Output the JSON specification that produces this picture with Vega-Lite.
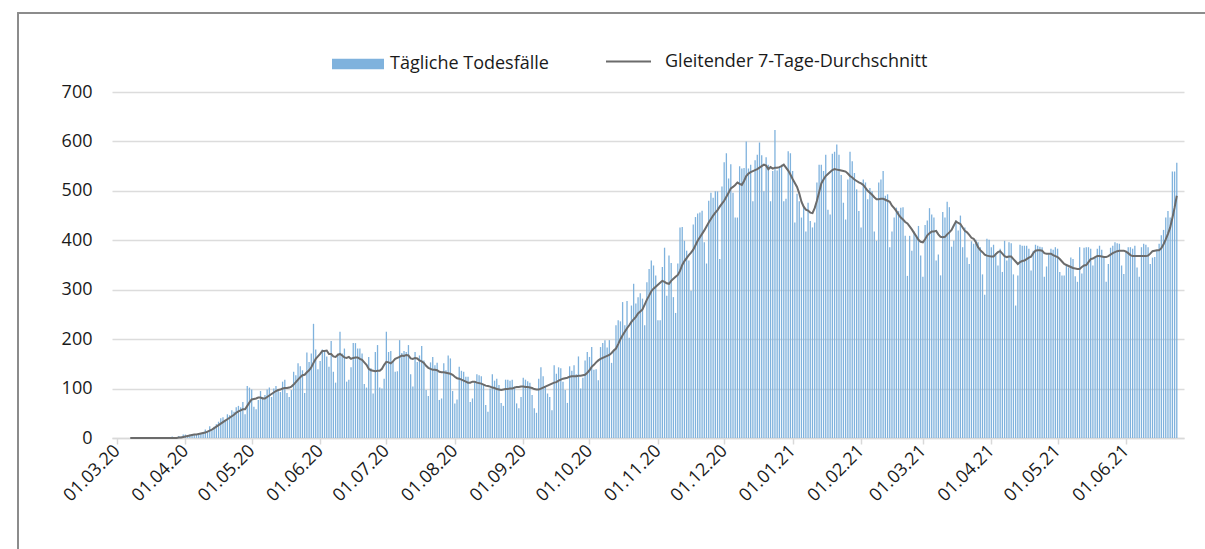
{
"$schema": "https://vega.github.io/schema/vega-lite/v6.json",
"width": 1072,
"height": 346,
"autosize": {"type": "none"},
"padding": {"left": 112, "top": 92, "right": 21, "bottom": 111},
"background": "white",
"config": {"view": {"stroke": null}, "font": "Open Sans"},
"data": {"values": [
{"d":"2020-03-01","v":0},{"d":"2020-03-02","v":0},{"d":"2020-03-03","v":0},{"d":"2020-03-04","v":0},{"d":"2020-03-05","v":0},{"d":"2020-03-06","v":0},
{"d":"2020-03-07","v":0,"a":0},{"d":"2020-03-08","v":0,"a":0},{"d":"2020-03-09","v":0,"a":0},{"d":"2020-03-10","v":0,"a":0},{"d":"2020-03-11","v":0,"a":0},{"d":"2020-03-12","v":0,"a":0},{"d":"2020-03-13","v":0,"a":0},{"d":"2020-03-14","v":0,"a":0},{"d":"2020-03-15","v":0,"a":0},{"d":"2020-03-16","v":0,"a":0},{"d":"2020-03-17","v":0,"a":0},{"d":"2020-03-18","v":0,"a":0},
{"d":"2020-03-19","v":1,"a":0},{"d":"2020-03-20","v":0,"a":0},{"d":"2020-03-21","v":1,"a":0},{"d":"2020-03-22","v":1,"a":0},{"d":"2020-03-23","v":1,"a":0},{"d":"2020-03-24","v":2,"a":0},{"d":"2020-03-25","v":1,"a":0},{"d":"2020-03-26","v":3,"a":0},{"d":"2020-03-27","v":1,"a":0},{"d":"2020-03-28","v":2,"a":0},{"d":"2020-03-29","v":4,"a":1},{"d":"2020-03-30","v":3,"a":1},{"d":"2020-03-31","v":7,"a":2},
{"d":"2020-04-01","v":7,"a":3},{"d":"2020-04-02","v":6,"a":4},{"d":"2020-04-03","v":7,"a":5},{"d":"2020-04-04","v":8,"a":6},{"d":"2020-04-05","v":7,"a":7},{"d":"2020-04-06","v":8,"a":7},{"d":"2020-04-07","v":9,"a":8},{"d":"2020-04-08","v":9,"a":9},{"d":"2020-04-09","v":11,"a":10},{"d":"2020-04-10","v":17,"a":11},
{"d":"2020-04-11","v":13,"a":13},{"d":"2020-04-12","v":24,"a":15},{"d":"2020-04-13","v":15,"a":17},{"d":"2020-04-14","v":23,"a":20},{"d":"2020-04-15","v":28,"a":23},{"d":"2020-04-16","v":33,"a":26},{"d":"2020-04-17","v":40,"a":29},{"d":"2020-04-18","v":42,"a":32},{"d":"2020-04-19","v":35,"a":35},{"d":"2020-04-20","v":48,"a":38},
{"d":"2020-04-21","v":46,"a":41},{"d":"2020-04-22","v":56,"a":44},{"d":"2020-04-23","v":53,"a":47},{"d":"2020-04-24","v":62,"a":51},{"d":"2020-04-25","v":65,"a":54},{"d":"2020-04-26","v":62,"a":56},{"d":"2020-04-27","v":73,"a":58},{"d":"2020-04-28","v":48,"a":58},{"d":"2020-04-29","v":105,"a":65},{"d":"2020-04-30","v":102,"a":72},
{"d":"2020-05-01","v":98,"a":78},{"d":"2020-05-02","v":63,"a":79},{"d":"2020-05-03","v":58,"a":80},{"d":"2020-05-04","v":77,"a":82},{"d":"2020-05-05","v":95,"a":82},{"d":"2020-05-06","v":83,"a":80},{"d":"2020-05-07","v":87,"a":80},{"d":"2020-05-08","v":98,"a":83},{"d":"2020-05-09","v":102,"a":86},{"d":"2020-05-10","v":83,"a":89},
{"d":"2020-05-11","v":100,"a":92},{"d":"2020-05-12","v":105,"a":95},{"d":"2020-05-13","v":98,"a":97},{"d":"2020-05-14","v":93,"a":98},{"d":"2020-05-15","v":114,"a":100},{"d":"2020-05-16","v":118,"a":101},{"d":"2020-05-17","v":91,"a":101},{"d":"2020-05-18","v":83,"a":102},{"d":"2020-05-19","v":97,"a":104},{"d":"2020-05-20","v":134,"a":108},
{"d":"2020-05-21","v":127,"a":113},{"d":"2020-05-22","v":151,"a":118},{"d":"2020-05-23","v":145,"a":123},{"d":"2020-05-24","v":137,"a":127},{"d":"2020-05-25","v":91,"a":128},{"d":"2020-05-26","v":173,"a":133},{"d":"2020-05-27","v":154,"a":137},{"d":"2020-05-28","v":171,"a":143},{"d":"2020-05-29","v":231,"a":152},{"d":"2020-05-30","v":179,"a":160},{"d":"2020-05-31","v":139,"a":165},
{"d":"2020-06-01","v":156,"a":170},{"d":"2020-06-02","v":179,"a":176},{"d":"2020-06-03","v":174,"a":176},{"d":"2020-06-04","v":165,"a":177},{"d":"2020-06-05","v":144,"a":170},{"d":"2020-06-06","v":196,"a":170},{"d":"2020-06-07","v":134,"a":165},{"d":"2020-06-08","v":112,"a":164},{"d":"2020-06-09","v":171,"a":168},{"d":"2020-06-10","v":215,"a":170},
{"d":"2020-06-11","v":171,"a":167},{"d":"2020-06-12","v":181,"a":163},{"d":"2020-06-13","v":114,"a":162},{"d":"2020-06-14","v":118,"a":164},{"d":"2020-06-15","v":143,"a":160},{"d":"2020-06-16","v":192,"a":162},{"d":"2020-06-17","v":192,"a":163},{"d":"2020-06-18","v":181,"a":163},{"d":"2020-06-19","v":181,"a":160},{"d":"2020-06-20","v":171,"a":158},
{"d":"2020-06-21","v":109,"a":153},{"d":"2020-06-22","v":102,"a":148},{"d":"2020-06-23","v":164,"a":140},{"d":"2020-06-24","v":141,"a":137},{"d":"2020-06-25","v":90,"a":136},{"d":"2020-06-26","v":174,"a":135},{"d":"2020-06-27","v":188,"a":136},{"d":"2020-06-28","v":102,"a":136},{"d":"2020-06-29","v":100,"a":140},{"d":"2020-06-30","v":120,"a":148},
{"d":"2020-07-01","v":215,"a":154},{"d":"2020-07-02","v":174,"a":153},{"d":"2020-07-03","v":176,"a":151},{"d":"2020-07-04","v":154,"a":155},{"d":"2020-07-05","v":134,"a":160},{"d":"2020-07-06","v":135,"a":162},{"d":"2020-07-07","v":198,"a":164},{"d":"2020-07-08","v":172,"a":167},{"d":"2020-07-09","v":176,"a":166},{"d":"2020-07-10","v":174,"a":168},
{"d":"2020-07-11","v":188,"a":167},{"d":"2020-07-12","v":129,"a":161},{"d":"2020-07-13","v":104,"a":160},{"d":"2020-07-14","v":174,"a":162},{"d":"2020-07-15","v":154,"a":161},{"d":"2020-07-16","v":167,"a":157},{"d":"2020-07-17","v":186,"a":155},{"d":"2020-07-18","v":157,"a":152},{"d":"2020-07-19","v":97,"a":146},{"d":"2020-07-20","v":85,"a":142},
{"d":"2020-07-21","v":153,"a":140},{"d":"2020-07-22","v":164,"a":138},{"d":"2020-07-23","v":147,"a":138},{"d":"2020-07-24","v":152,"a":137},{"d":"2020-07-25","v":77,"a":134},{"d":"2020-07-26","v":80,"a":133},{"d":"2020-07-27","v":151,"a":133},{"d":"2020-07-28","v":137,"a":132},{"d":"2020-07-29","v":167,"a":131},{"d":"2020-07-30","v":161,"a":130},{"d":"2020-07-31","v":95,"a":128},
{"d":"2020-08-01","v":70,"a":124},{"d":"2020-08-02","v":78,"a":121},{"d":"2020-08-03","v":144,"a":120},{"d":"2020-08-04","v":136,"a":118},{"d":"2020-08-05","v":134,"a":116},{"d":"2020-08-06","v":124,"a":114},{"d":"2020-08-07","v":124,"a":112},{"d":"2020-08-08","v":73,"a":112},{"d":"2020-08-09","v":80,"a":114},{"d":"2020-08-10","v":114,"a":114},
{"d":"2020-08-11","v":129,"a":112},{"d":"2020-08-12","v":127,"a":111},{"d":"2020-08-13","v":125,"a":110},{"d":"2020-08-14","v":107,"a":108},{"d":"2020-08-15","v":67,"a":106},{"d":"2020-08-16","v":53,"a":105},{"d":"2020-08-17","v":100,"a":104},{"d":"2020-08-18","v":129,"a":102},{"d":"2020-08-19","v":116,"a":101},{"d":"2020-08-20","v":120,"a":99},
{"d":"2020-08-21","v":107,"a":98},{"d":"2020-08-22","v":71,"a":97},{"d":"2020-08-23","v":65,"a":98},{"d":"2020-08-24","v":118,"a":99},{"d":"2020-08-25","v":118,"a":99},{"d":"2020-08-26","v":116,"a":100},{"d":"2020-08-27","v":118,"a":100},{"d":"2020-08-28","v":104,"a":102},{"d":"2020-08-29","v":70,"a":103},{"d":"2020-08-30","v":60,"a":103},{"d":"2020-08-31","v":83,"a":104},
{"d":"2020-09-01","v":122,"a":104},{"d":"2020-09-02","v":118,"a":103},{"d":"2020-09-03","v":115,"a":103},{"d":"2020-09-04","v":112,"a":102},{"d":"2020-09-05","v":87,"a":101},{"d":"2020-09-06","v":60,"a":99},{"d":"2020-09-07","v":51,"a":98},{"d":"2020-09-08","v":120,"a":98},{"d":"2020-09-09","v":143,"a":100},{"d":"2020-09-10","v":125,"a":102},
{"d":"2020-09-11","v":104,"a":104},{"d":"2020-09-12","v":90,"a":106},{"d":"2020-09-13","v":83,"a":108},{"d":"2020-09-14","v":56,"a":110},{"d":"2020-09-15","v":147,"a":112},{"d":"2020-09-16","v":130,"a":113},{"d":"2020-09-17","v":143,"a":116},{"d":"2020-09-18","v":141,"a":118},{"d":"2020-09-19","v":114,"a":120},{"d":"2020-09-20","v":97,"a":121},
{"d":"2020-09-21","v":71,"a":122},{"d":"2020-09-22","v":145,"a":124},{"d":"2020-09-23","v":136,"a":125},{"d":"2020-09-24","v":147,"a":125},{"d":"2020-09-25","v":129,"a":125},{"d":"2020-09-26","v":165,"a":126},{"d":"2020-09-27","v":100,"a":126},{"d":"2020-09-28","v":122,"a":127},{"d":"2020-09-29","v":157,"a":128},{"d":"2020-09-30","v":174,"a":132},
{"d":"2020-10-01","v":164,"a":137},{"d":"2020-10-02","v":184,"a":144},{"d":"2020-10-03","v":138,"a":148},{"d":"2020-10-04","v":139,"a":153},{"d":"2020-10-05","v":117,"a":157},{"d":"2020-10-06","v":184,"a":160},{"d":"2020-10-07","v":192,"a":162},{"d":"2020-10-08","v":198,"a":164},{"d":"2020-10-09","v":183,"a":166},{"d":"2020-10-10","v":198,"a":168},
{"d":"2020-10-11","v":152,"a":172},{"d":"2020-10-12","v":179,"a":177},{"d":"2020-10-13","v":228,"a":181},{"d":"2020-10-14","v":238,"a":190},{"d":"2020-10-15","v":236,"a":200},{"d":"2020-10-16","v":275,"a":208},{"d":"2020-10-17","v":228,"a":215},{"d":"2020-10-18","v":277,"a":222},{"d":"2020-10-19","v":203,"a":228},{"d":"2020-10-20","v":268,"a":235},
{"d":"2020-10-21","v":312,"a":240},{"d":"2020-10-22","v":272,"a":245},{"d":"2020-10-23","v":285,"a":252},{"d":"2020-10-24","v":293,"a":256},{"d":"2020-10-25","v":282,"a":260},{"d":"2020-10-26","v":228,"a":270},{"d":"2020-10-27","v":315,"a":280},{"d":"2020-10-28","v":342,"a":288},{"d":"2020-10-29","v":359,"a":297},{"d":"2020-10-30","v":349,"a":302},{"d":"2020-10-31","v":329,"a":306},
{"d":"2020-11-01","v":238,"a":310},{"d":"2020-11-02","v":238,"a":314},{"d":"2020-11-03","v":346,"a":318},{"d":"2020-11-04","v":385,"a":316},{"d":"2020-11-05","v":288,"a":313},{"d":"2020-11-06","v":369,"a":312},{"d":"2020-11-07","v":354,"a":318},{"d":"2020-11-08","v":285,"a":322},{"d":"2020-11-09","v":253,"a":326},{"d":"2020-11-10","v":353,"a":330},
{"d":"2020-11-11","v":426,"a":338},{"d":"2020-11-12","v":427,"a":350},{"d":"2020-11-13","v":399,"a":358},{"d":"2020-11-14","v":379,"a":364},{"d":"2020-11-15","v":359,"a":370},{"d":"2020-11-16","v":298,"a":375},{"d":"2020-11-17","v":432,"a":381},{"d":"2020-11-18","v":447,"a":390},{"d":"2020-11-19","v":454,"a":399},{"d":"2020-11-20","v":456,"a":406},
{"d":"2020-11-21","v":460,"a":413},{"d":"2020-11-22","v":396,"a":420},{"d":"2020-11-23","v":353,"a":428},{"d":"2020-11-24","v":480,"a":436},{"d":"2020-11-25","v":496,"a":443},{"d":"2020-11-26","v":486,"a":450},{"d":"2020-11-27","v":499,"a":456},{"d":"2020-11-28","v":499,"a":461},{"d":"2020-11-29","v":362,"a":468},{"d":"2020-11-30","v":509,"a":474},
{"d":"2020-12-01","v":558,"a":480},{"d":"2020-12-02","v":576,"a":488},{"d":"2020-12-03","v":525,"a":496},{"d":"2020-12-04","v":554,"a":505},{"d":"2020-12-05","v":496,"a":508},{"d":"2020-12-06","v":446,"a":512},{"d":"2020-12-07","v":446,"a":517},{"d":"2020-12-08","v":550,"a":514},{"d":"2020-12-09","v":545,"a":512},{"d":"2020-12-10","v":546,"a":520},
{"d":"2020-12-11","v":600,"a":530},{"d":"2020-12-12","v":545,"a":535},{"d":"2020-12-13","v":553,"a":538},{"d":"2020-12-14","v":479,"a":540},{"d":"2020-12-15","v":562,"a":542},{"d":"2020-12-16","v":573,"a":544},{"d":"2020-12-17","v":598,"a":547},{"d":"2020-12-18","v":572,"a":550},{"d":"2020-12-19","v":499,"a":553},{"d":"2020-12-20","v":568,"a":551},
{"d":"2020-12-21","v":553,"a":544},{"d":"2020-12-22","v":479,"a":548},{"d":"2020-12-23","v":540,"a":545},{"d":"2020-12-24","v":623,"a":547},{"d":"2020-12-25","v":541,"a":547},{"d":"2020-12-26","v":546,"a":548},{"d":"2020-12-27","v":553,"a":550},{"d":"2020-12-28","v":479,"a":553},{"d":"2020-12-29","v":484,"a":547},{"d":"2020-12-30","v":580,"a":541},{"d":"2020-12-31","v":576,"a":533},
{"d":"2021-01-01","v":540,"a":524},{"d":"2021-01-02","v":436,"a":516},{"d":"2021-01-03","v":494,"a":508},{"d":"2021-01-04","v":479,"a":495},{"d":"2021-01-05","v":446,"a":478},{"d":"2021-01-06","v":469,"a":468},{"d":"2021-01-07","v":418,"a":462},{"d":"2021-01-08","v":476,"a":460},{"d":"2021-01-09","v":439,"a":456},{"d":"2021-01-10","v":426,"a":455},
{"d":"2021-01-11","v":436,"a":465},{"d":"2021-01-12","v":517,"a":480},{"d":"2021-01-13","v":553,"a":497},{"d":"2021-01-14","v":553,"a":515},{"d":"2021-01-15","v":540,"a":523},{"d":"2021-01-16","v":573,"a":530},{"d":"2021-01-17","v":462,"a":534},{"d":"2021-01-18","v":452,"a":538},{"d":"2021-01-19","v":575,"a":542},{"d":"2021-01-20","v":579,"a":544},
{"d":"2021-01-21","v":594,"a":543},{"d":"2021-01-22","v":573,"a":542},{"d":"2021-01-23","v":532,"a":541},{"d":"2021-01-24","v":476,"a":540},{"d":"2021-01-25","v":442,"a":539},{"d":"2021-01-26","v":523,"a":535},{"d":"2021-01-27","v":579,"a":530},{"d":"2021-01-28","v":560,"a":527},{"d":"2021-01-29","v":536,"a":523},{"d":"2021-01-30","v":503,"a":520},{"d":"2021-01-31","v":459,"a":517},
{"d":"2021-02-01","v":426,"a":515},{"d":"2021-02-02","v":523,"a":512},{"d":"2021-02-03","v":517,"a":506},{"d":"2021-02-04","v":483,"a":500},{"d":"2021-02-05","v":506,"a":496},{"d":"2021-02-06","v":499,"a":492},{"d":"2021-02-07","v":418,"a":487},{"d":"2021-02-08","v":399,"a":483},{"d":"2021-02-09","v":517,"a":483},{"d":"2021-02-10","v":523,"a":484},
{"d":"2021-02-11","v":540,"a":484},{"d":"2021-02-12","v":490,"a":482},{"d":"2021-02-13","v":493,"a":480},{"d":"2021-02-14","v":386,"a":478},{"d":"2021-02-15","v":418,"a":470},{"d":"2021-02-16","v":446,"a":465},{"d":"2021-02-17","v":466,"a":459},{"d":"2021-02-18","v":459,"a":452},{"d":"2021-02-19","v":466,"a":446},{"d":"2021-02-20","v":467,"a":442},
{"d":"2021-02-21","v":409,"a":437},{"d":"2021-02-22","v":328,"a":434},{"d":"2021-02-23","v":409,"a":428},{"d":"2021-02-24","v":379,"a":422},{"d":"2021-02-25","v":418,"a":415},{"d":"2021-02-26","v":409,"a":408},{"d":"2021-02-27","v":429,"a":401},{"d":"2021-02-28","v":369,"a":397},
{"d":"2021-03-01","v":326,"a":396},{"d":"2021-03-02","v":431,"a":402},{"d":"2021-03-03","v":440,"a":410},{"d":"2021-03-04","v":465,"a":414},{"d":"2021-03-05","v":452,"a":418},{"d":"2021-03-06","v":446,"a":418},{"d":"2021-03-07","v":359,"a":419},{"d":"2021-03-08","v":371,"a":412},{"d":"2021-03-09","v":329,"a":407},{"d":"2021-03-10","v":457,"a":406},
{"d":"2021-03-11","v":446,"a":407},{"d":"2021-03-12","v":478,"a":412},{"d":"2021-03-13","v":467,"a":416},{"d":"2021-03-14","v":387,"a":421},{"d":"2021-03-15","v":399,"a":430},{"d":"2021-03-16","v":440,"a":438},{"d":"2021-03-17","v":420,"a":435},{"d":"2021-03-18","v":450,"a":433},{"d":"2021-03-19","v":386,"a":426},{"d":"2021-03-20","v":426,"a":419},
{"d":"2021-03-21","v":365,"a":416},{"d":"2021-03-22","v":352,"a":411},{"d":"2021-03-23","v":398,"a":405},{"d":"2021-03-24","v":393,"a":403},{"d":"2021-03-25","v":401,"a":396},{"d":"2021-03-26","v":396,"a":386},{"d":"2021-03-27","v":386,"a":380},{"d":"2021-03-28","v":331,"a":376},{"d":"2021-03-29","v":290,"a":371},{"d":"2021-03-30","v":403,"a":369},{"d":"2021-03-31","v":401,"a":368},
{"d":"2021-04-01","v":386,"a":367},{"d":"2021-04-02","v":391,"a":367},{"d":"2021-04-03","v":374,"a":372},{"d":"2021-04-04","v":349,"a":376},{"d":"2021-04-05","v":383,"a":378},{"d":"2021-04-06","v":336,"a":373},{"d":"2021-04-07","v":399,"a":368},{"d":"2021-04-08","v":359,"a":366},{"d":"2021-04-09","v":396,"a":367},{"d":"2021-04-10","v":394,"a":367},
{"d":"2021-04-11","v":331,"a":362},{"d":"2021-04-12","v":268,"a":357},{"d":"2021-04-13","v":329,"a":352},{"d":"2021-04-14","v":391,"a":356},{"d":"2021-04-15","v":389,"a":358},{"d":"2021-04-16","v":389,"a":359},{"d":"2021-04-17","v":389,"a":362},{"d":"2021-04-18","v":383,"a":365},{"d":"2021-04-19","v":339,"a":367},{"d":"2021-04-20","v":379,"a":374},
{"d":"2021-04-21","v":391,"a":379},{"d":"2021-04-22","v":389,"a":380},{"d":"2021-04-23","v":387,"a":380},{"d":"2021-04-24","v":386,"a":379},{"d":"2021-04-25","v":326,"a":374},{"d":"2021-04-26","v":347,"a":373},{"d":"2021-04-27","v":372,"a":373},{"d":"2021-04-28","v":383,"a":373},{"d":"2021-04-29","v":381,"a":370},{"d":"2021-04-30","v":386,"a":368},
{"d":"2021-05-01","v":383,"a":366},{"d":"2021-05-02","v":336,"a":362},{"d":"2021-05-03","v":329,"a":357},{"d":"2021-05-04","v":329,"a":352},{"d":"2021-05-05","v":352,"a":350},{"d":"2021-05-06","v":345,"a":348},{"d":"2021-05-07","v":365,"a":346},{"d":"2021-05-08","v":362,"a":344},{"d":"2021-05-09","v":327,"a":343},{"d":"2021-05-10","v":316,"a":342},
{"d":"2021-05-11","v":386,"a":342},{"d":"2021-05-12","v":333,"a":346},{"d":"2021-05-13","v":385,"a":349},{"d":"2021-05-14","v":386,"a":350},{"d":"2021-05-15","v":386,"a":356},{"d":"2021-05-16","v":383,"a":362},{"d":"2021-05-17","v":349,"a":363},{"d":"2021-05-18","v":365,"a":366},{"d":"2021-05-19","v":383,"a":368},{"d":"2021-05-20","v":389,"a":368},
{"d":"2021-05-21","v":381,"a":367},{"d":"2021-05-22","v":365,"a":366},{"d":"2021-05-23","v":316,"a":366},{"d":"2021-05-24","v":352,"a":368},{"d":"2021-05-25","v":385,"a":371},{"d":"2021-05-26","v":389,"a":374},{"d":"2021-05-27","v":396,"a":376},{"d":"2021-05-28","v":394,"a":378},{"d":"2021-05-29","v":393,"a":379},{"d":"2021-05-30","v":349,"a":379},{"d":"2021-05-31","v":332,"a":379},
{"d":"2021-06-01","v":379,"a":377},{"d":"2021-06-02","v":386,"a":374},{"d":"2021-06-03","v":386,"a":370},{"d":"2021-06-04","v":383,"a":368},{"d":"2021-06-05","v":389,"a":368},{"d":"2021-06-06","v":345,"a":368},{"d":"2021-06-07","v":326,"a":368},{"d":"2021-06-08","v":386,"a":368},{"d":"2021-06-09","v":393,"a":368},{"d":"2021-06-10","v":391,"a":368},
{"d":"2021-06-11","v":386,"a":369},{"d":"2021-06-12","v":352,"a":373},{"d":"2021-06-13","v":365,"a":378},{"d":"2021-06-14","v":366,"a":379},{"d":"2021-06-15","v":379,"a":380},{"d":"2021-06-16","v":393,"a":380},{"d":"2021-06-17","v":410,"a":384},{"d":"2021-06-18","v":421,"a":392},{"d":"2021-06-19","v":446,"a":402},{"d":"2021-06-20","v":459,"a":413},
{"d":"2021-06-21","v":446,"a":426},{"d":"2021-06-22","v":539,"a":445},{"d":"2021-06-23","v":539,"a":466},{"d":"2021-06-24","v":557,"a":490}
]},
"encoding": {
  "x": {
    "field": "d", "type": "temporal",
    "scale": {"type": "utc", "domain": [{"year": 2020, "month": 3, "date": 1, "utc": true}, {"year": 2021, "month": 6, "date": 25, "utc": true}]},
    "axis": {"title": null, "format": "%d.%m.%y", "tickCount": {"interval": "month", "step": 1}, "labelAngle": -45, "labelAlign": "right", "labelBaseline": "middle", "labelFontSize": 18, "labelColor": "#1a1a1a", "labelFont": "Open Sans", "grid": false, "domainColor": "#d9d9d9", "domainWidth": 1.5, "tickColor": "#d9d9d9", "tickWidth": 1.5, "tickSize": 6, "labelPadding": 4, "labelOverlap": false, "labelBound": false, "labelFlush": false}
  }
},
"layer": [
  {
    "mark": {"type": "bar", "width": 1.3},
    "encoding": {
      "y": {"field": "v", "type": "quantitative", "scale": {"domain": [0, 700]},
        "axis": {"title": null, "values": [0, 100, 200, 300, 400, 500, 600, 700], "domain": false, "ticks": false, "tickSize": 0, "labelPadding": 20, "labelFontSize": 18, "labelColor": "#1a1a1a", "labelFont": "Open Sans", "gridColor": "#dcdcdc", "gridWidth": 1.5}},
      "fill": {"datum": "Tägliche Todesfälle", "scale": {"range": ["#7fb2dd"]},
        "legend": {"title": null, "orient": "none", "legendX": 220, "legendY": -54, "padding": 0, "symbolType": "M-1,-0.2H1V0.2H-1Z", "symbolSize": 2704, "symbolStrokeWidth": 0, "labelOffset": 6, "labelLimit": 500, "labelFontSize": 18, "labelFont": "Open Sans", "labelColor": "#1a1a1a"}}
    }
  },
  {
    "mark": {"type": "line", "strokeWidth": 2},
    "encoding": {
      "y": {"field": "a", "type": "quantitative"},
      "stroke": {"datum": "Gleitender 7-Tage-Durchschnitt", "scale": {"range": ["#6b6b6b"]},
        "legend": {"title": null, "orient": "none", "legendX": 493, "legendY": -54, "padding": 0, "symbolType": "stroke", "symbolSize": 2025, "symbolStrokeWidth": 2, "labelOffset": 13, "labelLimit": 500, "labelFontSize": 18, "labelFont": "Open Sans", "labelColor": "#1a1a1a"}}
    }
  },
  {
    "mark": {"type": "rule", "color": "#8c8c8c", "strokeWidth": 1.5},
    "encoding": {
      "x": {"datum": {"year": 2020, "month": 1, "date": 16, "hours": 3, "utc": true}},
      "y": {"datum": 860},
      "y2": {"datum": -400}
    }
  },
  {
    "mark": {"type": "rule", "color": "#8c8c8c", "strokeWidth": 1.5},
    "encoding": {
      "x": {"datum": {"year": 2020, "month": 1, "date": 16, "hours": 3, "utc": true}},
      "x2": {"datum": {"year": 2021, "month": 8, "date": 1, "utc": true}},
      "y": {"datum": 860}
    }
  }
]
}
